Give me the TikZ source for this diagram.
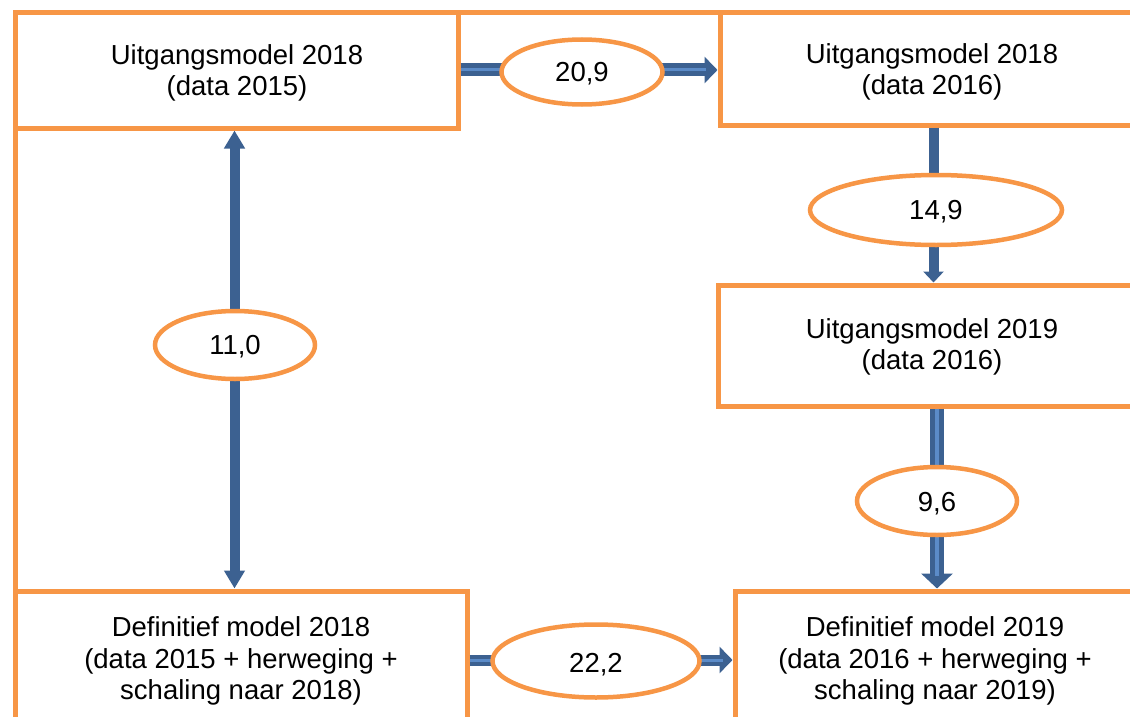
\documentclass[tikz,border=0pt]{standalone}
\usepackage{fontspec}
\setmainfont{Liberation Sans}
\usetikzlibrary{arrows.meta,shapes.geometric}
\definecolor{frameorange}{HTML}{F79646}
\definecolor{arrowblue}{HTML}{3C6191}
\definecolor{stripeblue}{HTML}{5B8BC8}
\begin{document}
\begin{tikzpicture}[x=1pt,y=-1pt,
  box/.style={draw=frameorange, line width=5pt, inner sep=0pt},
  lbl/.style={align=center, inner sep=0pt, font=\fontsize{27.5}{31.5}\selectfont},
  val/.style={ellipse, draw=frameorange, line width=4.5pt, fill=white, inner sep=0pt},
  conn/.style={draw=arrowblue, line width=#1},
  stripe/.style={draw=stripeblue, line width=#1}]
\useasboundingbox (0,0) rectangle (1130,717);
\clip (0,0) rectangle (1130,717);
% outer frame
\draw[frameorange, line width=5pt] (15,13) rectangle (1170,750);
% boxes
\node[box, minimum width=443pt, minimum height=115pt] (b1) at (236.5,70.5) {};
\node[lbl] (t1) at (237,73) {Uitgangsmodel 2018\\(data 2015)};
\node[box, minimum width=424pt, minimum height=112pt] (b2) at (932,69) {};
\node[lbl] (t2) at (932,72) {Uitgangsmodel 2018\\(data 2016)};
\node[box, minimum width=428pt, minimum height=121pt] (b3) at (932,345.5) {};
\node[lbl] (t3) at (932,347) {Uitgangsmodel 2019\\(data 2016)};
\node[box, minimum width=452pt, minimum height=140pt] (b4) at (241,661) {};
\node[lbl] (t4) at (241,661) {Definitief model 2018\\(data 2015 + herweging +\\schaling naar 2018)};
\node[box, minimum width=400pt, minimum height=140pt] (b5) at (935,661) {};
\node[lbl] (t5) at (935,661) {Definitief model 2019\\(data 2016 + herweging +\\schaling naar 2019)};
% connectors
\draw[conn=13pt, -{Triangle[width=26pt,length=13pt]}] (b1.east |- 0,70) -- (b2.west |- 0,70);
\draw[stripe=3pt] (b1.east |- 0,70) -- (706,70);
\draw[conn=10pt, -{Triangle[width=20pt,length=11pt]}] (933.5,0 |- b2.south) -- (933.5,0 |- b3.north);
\draw[conn=14pt, -{Triangle[width=31pt,length=15pt]}] (937,0 |- b3.south) -- (937,0 |- b5.north);
\draw[stripe=4pt] (937,0 |- b3.south) -- (937,576);
\draw[conn=10pt, {Triangle[width=20pt,length=18pt]}-{Triangle[width=20pt,length=18pt]}] (234.5,0 |- b1.south) -- (234.5,0 |- b4.north);
\draw[conn=11pt, -{Triangle[width=26pt,length=13pt]}] (b4.east |- 0,660) -- (b5.west |- 0,660);
\draw[stripe=3pt] (b4.east |- 0,660) -- (723,660);
% values
\node[val, minimum width=161pt, minimum height=65pt] (e1) at (582,72) {};
\node[lbl] (v1) at (582,74) {20,9};
\node[val, minimum width=252pt, minimum height=70pt] (e2) at (936,210) {};
\node[lbl] (v2) at (936,212) {14,9};
\node[val, minimum width=160pt, minimum height=68pt] (e3) at (937,501) {};
\node[lbl] (v3) at (937,504) {9,6};
\node[val, minimum width=160pt, minimum height=68pt] (e4) at (235,345) {};
\node[lbl] (v4) at (235,347) {11,0};
\node[val, minimum width=207pt, minimum height=73pt] (e5) at (596,661) {};
\node[lbl] (v5) at (596,665) {22,2};
\end{tikzpicture}
\end{document}
